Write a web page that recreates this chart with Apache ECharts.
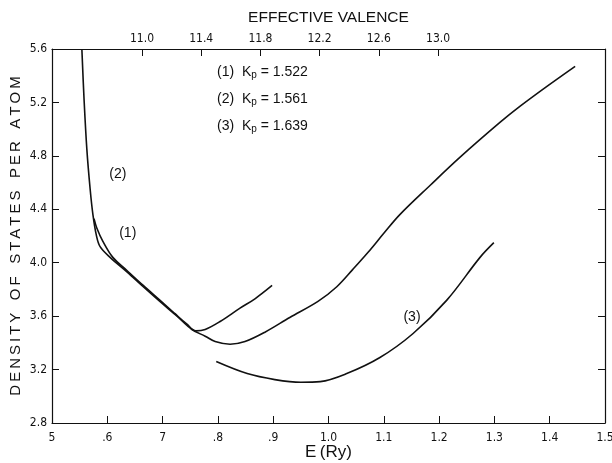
<!DOCTYPE html>
<html>
<head>
<meta charset="utf-8">
<script src="https://cdn.jsdelivr.net/npm/echarts@6/dist/echarts.min.js"></script>
<style>
  html, body { margin: 0; padding: 0; background: #fff; }
  #dos { width: 612px; height: 463px; }
</style>
</head>
<body>
<div id="dos"></div>
<script>
// curve (1), Kp = 1.522
const e1 = [0.576, 0.581, 0.592, 0.610, 0.636, 0.665, 0.695, 0.722, 0.744, 0.760, 0.777, 0.804, 0.840, 0.867, 0.898];
const d1 = [4.33, 4.26, 4.16, 4.04, 3.94, 3.83, 3.72, 3.62, 3.54, 3.49, 3.50, 3.56, 3.66, 3.73, 3.83];
// curve (2), Kp = 1.561
const e2 = [0.554, 0.558, 0.563, 0.569, 0.574, 0.580, 0.587, 0.605, 0.636, 0.665, 0.695, 0.726, 0.753, 0.777, 0.795, 0.822, 0.849, 0.885, 0.930, 0.981, 1.015, 1.044, 1.072, 1.100, 1.129, 1.184, 1.238, 1.310, 1.346, 1.395, 1.446];
const d2 = [5.60, 5.22, 4.85, 4.55, 4.36, 4.21, 4.12, 4.04, 3.93, 3.82, 3.71, 3.60, 3.50, 3.45, 3.41, 3.39, 3.41, 3.48, 3.59, 3.71, 3.82, 3.95, 4.08, 4.22, 4.36, 4.58, 4.79, 5.05, 5.17, 5.32, 5.47];
// curve (3), Kp = 1.639
const e3 = [0.797, 0.853, 0.903, 0.950, 0.985, 1.033, 1.093, 1.153, 1.214, 1.274, 1.299];
const d3 = [3.26, 3.17, 3.125, 3.105, 3.11, 3.17, 3.29, 3.47, 3.72, 4.04, 4.15];

const eTickLabels = ['5', '.6', '7', '.8', '.9', '1.0', '1.1', '1.2', '1.3', '1.4', '1.5'];
const valenceTicks = [11.0, 11.4, 11.8, 12.2, 12.6, 13.0];
const kpText = ['1.522', '1.561', '1.639'];

const zip = (xs, ys) => xs.map((x, i) => [x, ys[i]]);
// spread capitals a little, like the lettering on the original plot
const spaced = (s) => s.split(' ').map((w) => w.split('').join('\u2009')).join('   ');

const numFont = "'Liberation Sans Narrow', 'DejaVu Sans Condensed', 'Roboto Condensed', sans-serif";
const txtFont = "'Liberation Sans', Arial, sans-serif";
const ink = '#111';

let chart = echarts.init(document.getElementById('dos'));

const tagPoint = (x, y, txt) => ({
  coord: [x, y],
  symbol: 'circle',
  symbolSize: 0,
  label: { show: true, formatter: txt, position: 'inside', color: ink, fontSize: 14, fontFamily: txtFont },
});

const curve = (data, tags) => ({
  type: 'line',
  data: data,
  smooth: 0.35,
  symbol: 'none',
  lineStyle: { color: ink, width: 1.6 },
  silent: true,
  markPoint: tags ? { silent: true, data: tags } : undefined,
  z: 3,
});

const kpLines = kpText.map((v, i) => ({
  type: 'text',
  left: 217,
  top: 65 + i * 27,
  style: {
    text: '(' + (i + 1) + ')  {k|K}{p|p} = ' + v,
    fill: ink,
    font: '14px ' + txtFont,
    rich: {
      k: { fontSize: 14, fontFamily: txtFont, fill: ink },
      p: { fontSize: 10, fontFamily: txtFont, fill: ink, padding: [6, 0, 0, 0] },
    },
  },
}));

let option = {
  animation: false,
  backgroundColor: '#fff',
  grid: { left: 52, right: 7, top: 49, bottom: 40, outerBoundsMode: 'none', containLabel: false },
  xAxis: [
    {
      type: 'value',
      position: 'bottom',
      min: 0.5,
      max: 1.5,
      interval: 0.1,
      name: 'E\u2009(Ry)',
      nameLocation: 'middle',
      nameGap: 21,
      nameMoveOverlap: false,
      nameTextStyle: { color: ink, fontSize: 17, fontFamily: txtFont },
      axisLine: { lineStyle: { color: ink, width: 1.2 } },
      axisTick: { inside: true, length: 7, lineStyle: { color: ink } },
      axisLabel: {
        color: ink, fontSize: 12, fontFamily: numFont, margin: 9,
        formatter: (v) => eTickLabels[Math.round((v - 0.5) * 10)] || '',
      },
      splitLine: { show: false },
    },
    {
      type: 'value',
      position: 'top',
      min: 10.392,
      max: 14.128,
      name: 'EFFECTIVE VALENCE',
      nameLocation: 'middle',
      nameGap: 23,
      nameMoveOverlap: false,
      nameTextStyle: { color: ink, fontSize: 15.5, fontFamily: txtFont },
      axisLine: { lineStyle: { color: ink, width: 1.2 } },
      axisTick: { inside: true, length: 7, customValues: valenceTicks, lineStyle: { color: ink } },
      axisLabel: {
        color: ink, fontSize: 12, fontFamily: numFont, margin: 4,
        customValues: valenceTicks,
        formatter: (v) => v.toFixed(1),
      },
      splitLine: { show: false },
    },
  ],
  yAxis: [
    {
      type: 'value',
      position: 'left',
      min: 2.8,
      max: 5.6,
      interval: 0.4,
      name: spaced('DENSITY OF STATES PER ATOM'),
      nameLocation: 'middle',
      nameGap: 29,
      nameMoveOverlap: false,
      nameTextStyle: { color: ink, fontSize: 15, fontFamily: txtFont },
      axisLine: { lineStyle: { color: ink, width: 1.2 } },
      axisTick: { inside: true, length: 7, lineStyle: { color: ink } },
      axisLabel: {
        color: ink, fontSize: 12, fontFamily: numFont, margin: 5,
        formatter: (v) => v.toFixed(1),
      },
      splitLine: { show: false },
    },
    {
      type: 'value',
      position: 'right',
      min: 2.8,
      max: 5.6,
      interval: 0.4,
      axisLine: { show: true, lineStyle: { color: ink, width: 1.2 } },
      axisTick: { inside: true, length: 7, lineStyle: { color: ink } },
      axisLabel: { show: false },
      splitLine: { show: false },
    },
  ],
  series: [
    curve(zip(e1, d1), [tagPoint(0.637, 4.22, '(1)')]),
    curve(zip(e2, d2), [tagPoint(0.619, 4.66, '(2)')]),
    curve(zip(e3, d3), [tagPoint(1.151, 3.59, '(3)')]),
  ],
  graphic: kpLines,
};

chart.setOption(option);
</script>
</body>
</html>
